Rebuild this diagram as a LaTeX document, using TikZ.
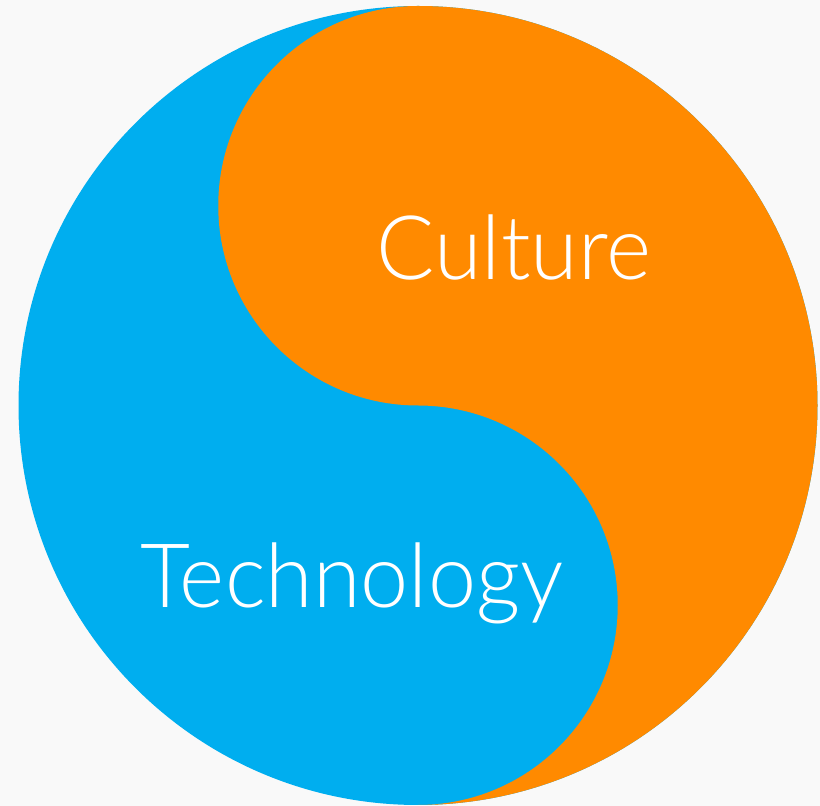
\documentclass[tikz,border=0pt]{standalone}
\usepackage{fontspec}
\setmainfont{Lato Light}
\definecolor{bgc}{RGB}{249,249,249}
\definecolor{techblue}{RGB}{0,174,239}
\definecolor{cultorange}{RGB}{255,138,0}
\tikzset{lbl/.style={text=white,anchor=base,inner sep=0pt,font=\fontsize{89}{89}\selectfont,xscale=0.97}}
\begin{document}
\begin{tikzpicture}[x=1pt,y=1pt]
\fill[bgc] (0,0) rectangle (820,806);
\useasboundingbox (0,0) rectangle (820,806);
\fill[techblue] (418,400.5) circle[radius=399.5];
\fill[cultorange] (418,800) arc[start angle=90,end angle=270,radius=199.75]
  arc[start angle=90,end angle=-90,radius=199.75]
  arc[start angle=-90,end angle=90,radius=399.5] -- cycle;
\node[lbl] (culture) at (514,526) {Culture};
\node[lbl] (tech) at (352,198) {Technology};
\end{tikzpicture}
\end{document}
